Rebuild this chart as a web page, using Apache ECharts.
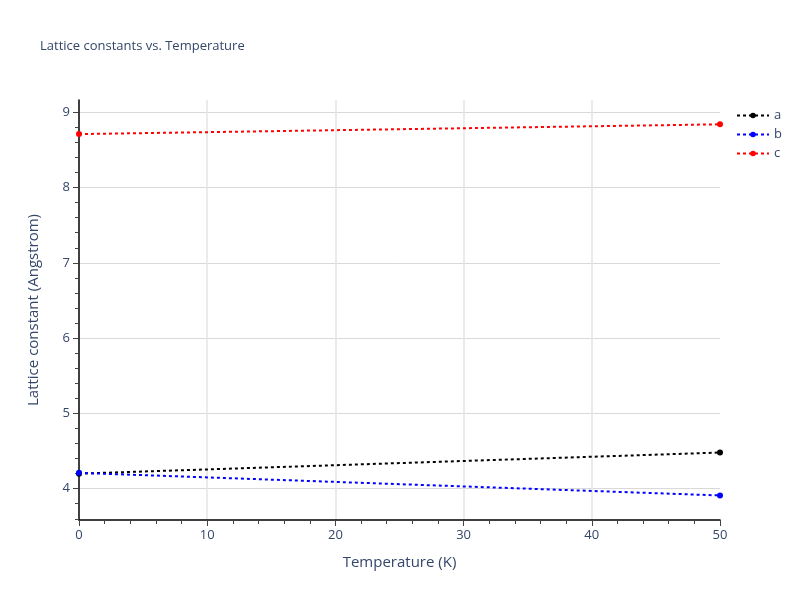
<!DOCTYPE html>
<html lang="en">
<head>
  <meta charset="UTF-8">
  <title>Lattice constants</title>
  <script src="https://cdn.jsdelivr.net/npm/echarts@6/dist/echarts.min.js"></script>
  <style>
    body { margin: 0; background: #fff; }
  </style>
</head>
<body>
  <div id="main" style="width: 800px;height: 600px;"></div>
  <script type="text/javascript">
    // temperatures (K) and lattice constants (Angstrom)
    var temps = [0, 50]
    var aVals = [4.20, 4.48]
    var bVals = [4.21, 3.91]
    var cVals = [8.71, 8.84]

    var yMajor = [4, 5, 6, 7, 8, 9]
    var yMinor = [3.6, 3.8, 4.2, 4.4, 4.6, 4.8, 5.2, 5.4, 5.6, 5.8, 6.2, 6.4, 6.6, 6.8,
      7.2, 7.4, 7.6, 7.8, 8.2, 8.4, 8.6, 8.8]
    var xGrid = [10, 20, 30, 40]

    var txt = '#34466a'
    var font = 'Open Sans'

    function pairs(ys) {
      return temps.map(function (t, i) { return [t, ys[i]] })
    }

    function mk(name, color, ys) {
      return {
        name: name,
        type: 'line',
        data: pairs(ys),
        symbol: 'circle',
        symbolSize: 6,
        itemStyle: { color: color },
        lineStyle: { color: color, width: 2, type: [3, 3] },
        animation: false
      }
    }

    var myChart = echarts.init(document.getElementById('main'))
    myChart.setOption({
      backgroundColor: '#fff',
      textStyle: { fontFamily: font },
      title: {
        text: 'Lattice constants vs. Temperature',
        left: 35,
        top: 35,
        textStyle: { fontSize: 13, fontWeight: 'normal', color: txt, fontFamily: font }
      },
      legend: {
        orient: 'vertical',
        left: 731,
        top: 104,
        itemWidth: 32,
        itemHeight: 7,
        itemGap: 6,
        textStyle: { fontSize: 13, color: txt, fontFamily: font },
        data: ['a', 'b', 'c']
      },
      grid: { left: 79, right: 80, top: 100, bottom: 80 },
      xAxis: [{
        type: 'value',
        min: 0,
        max: 50,
        interval: 10,
        name: 'Temperature (K)',
        nameLocation: 'middle',
        nameGap: 35,
        nameTextStyle: { fontSize: 15, color: txt, fontFamily: font },
        axisLine: { show: true, lineStyle: { color: '#000', width: 1.5 } },
        axisTick: { show: true, length: 6, lineStyle: { color: '#444' } },
        minorTick: { show: true, splitNumber: 5, length: 4, lineStyle: { color: '#444' } },
        axisLabel: { fontSize: 13, color: txt, margin: 9, fontFamily: font },
        splitLine: { show: false }
      }, {
        type: 'value',
        min: 0,
        max: 50,
        position: 'bottom',
        axisLine: { show: false },
        splitLine: { show: true, lineStyle: { color: '#e5e5e5', width: 1.5 } },
        axisLabel: { show: false, customValues: xGrid },
        axisTick: { show: false, customValues: xGrid }
      }],
      yAxis: [{
        type: 'value',
        min: 3.584,
        max: 9.163,
        name: 'Lattice constant (Angstrom)',
        nameLocation: 'middle',
        nameGap: 38,
        nameTextStyle: { fontSize: 15, color: txt, fontFamily: font },
        axisLine: { show: true, lineStyle: { color: '#000', width: 1.5 } },
        axisTick: { show: true, length: 6, customValues: yMajor, lineStyle: { color: '#444' } },
        axisLabel: { fontSize: 13, color: txt, margin: 9, customValues: yMajor, fontFamily: font },
        splitLine: { show: true, lineStyle: { color: '#d9d9d9', width: 1 } }
      }, {
        type: 'value',
        min: 3.584,
        max: 9.163,
        position: 'left',
        axisLine: { show: false },
        axisTick: { show: true, length: 4, customValues: yMinor, lineStyle: { color: '#444' } },
        axisLabel: { show: false, customValues: yMinor },
        splitLine: { show: false }
      }],
      series: [
        mk('a', '#000000', aVals),
        mk('b', '#0000ff', bVals),
        mk('c', '#ff0000', cVals)
      ]
    })
  </script>
</body>
</html>
